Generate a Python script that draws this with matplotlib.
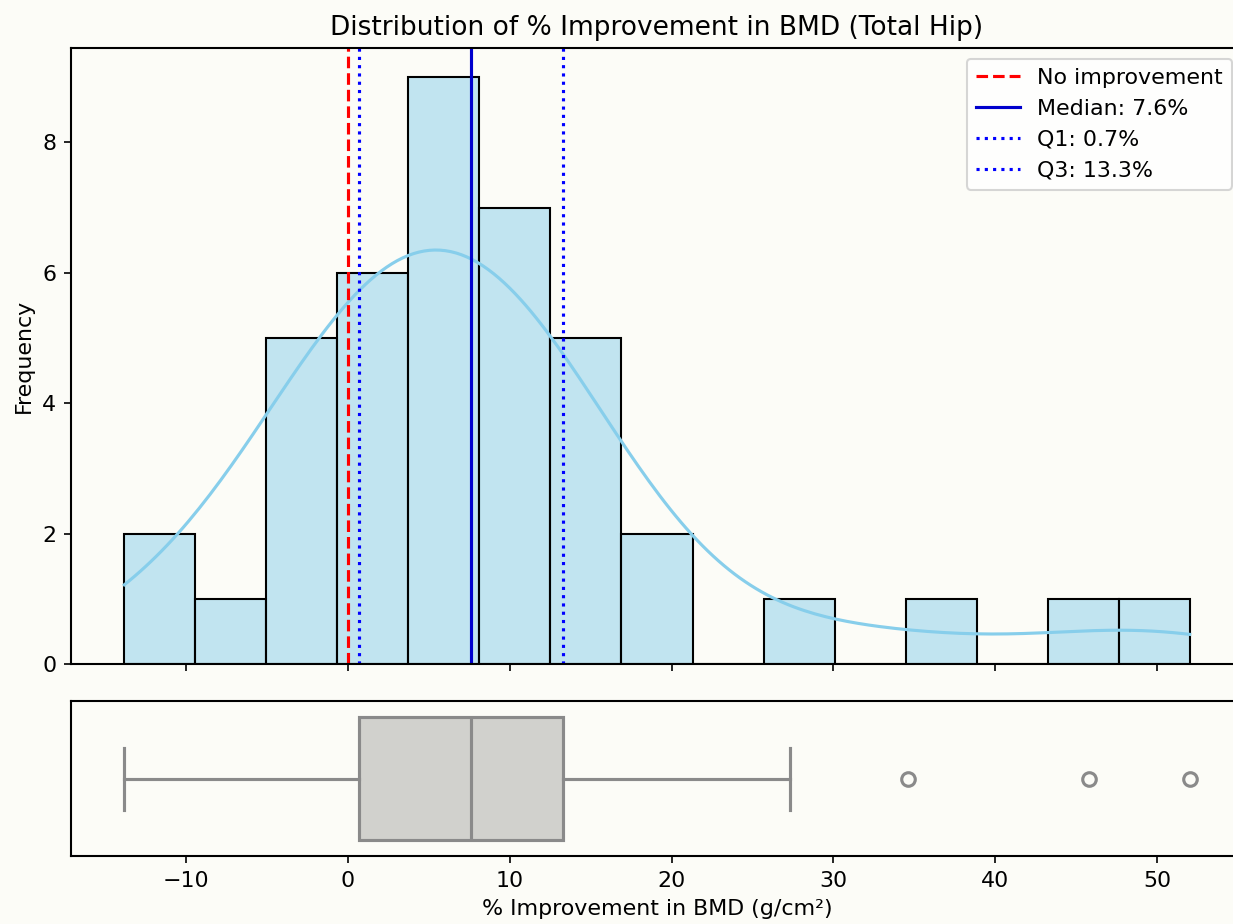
import matplotlib
matplotlib.use("Agg")
import matplotlib.pyplot as plt
import numpy as np
import seaborn as sns

improvement = [
    -13.8, -11.0,
    -7.0,
    -5.0, -4.5, -3.5, -2.3, -1.2,
    -0.6, -0.5, 0.7, 0.8, 1.0, 1.4,
    3.8, 3.9, 4.0, 4.2, 4.5, 5.0, 7.6, 7.65, 7.7,
    8.2, 8.4, 8.8, 9.3, 9.9, 10.6, 11.4,
    13.3, 13.6, 14.2, 15.0, 15.8,
    18.0, 20.5,
    27.3,
    34.6,
    45.8,
    52.0,
]
n_bins = 15

data = np.array(improvement)
median = np.median(data)
q1, q3 = np.percentile(data, [25, 75])

plt.rcParams["font.size"] = 10.6
plt.rcParams["axes.linewidth"] = 1.0

bg = "#fcfcf7"
fig = plt.figure(figsize=(1233 / 150, 924 / 150), dpi=150, facecolor=bg)
ax1 = fig.add_axes([0.0576, 0.2814, 0.9505, 0.6667], facecolor=bg)
ax2 = fig.add_axes([0.0576, 0.0736, 0.9505, 0.1677], facecolor=bg, sharex=ax1)

sns.histplot(data, bins=n_bins, kde=True, color="skyblue", edgecolor="black",
             alpha=0.5, line_kws={"linewidth": 1.5}, ax=ax1)
ax1.axvline(0, color="red", linestyle="--", linewidth=1.5, label="No improvement")
ax1.axvline(median, color="mediumblue", linestyle="-", linewidth=1.5, label=f"Median: {median:.1f}%")
ax1.axvline(q1, color="blue", linestyle=":", linewidth=1.5, label=f"Q1: {q1:.1f}%")
ax1.axvline(q3, color="blue", linestyle=":", linewidth=1.5, label=f"Q3: {q3:.1f}%")
ax1.set_title("Distribution of % Improvement in BMD (Total Hip)", fontsize=12.7)
ax1.set_ylabel("Frequency")
ax1.set_xlabel("")
ax1.tick_params(labelbottom=False)
ax1.legend(loc="upper right")

ax2.boxplot(data, vert=False, positions=[0], widths=0.8, patch_artist=True,
            boxprops=dict(facecolor="#d1d1cd", edgecolor="#8a8a8a", linewidth=1.5),
            medianprops=dict(color="#8a8a8a", linewidth=1.5),
            whiskerprops=dict(color="#8a8a8a", linewidth=1.5),
            capprops=dict(color="#8a8a8a", linewidth=1.5),
            flierprops=dict(marker="o", markerfacecolor="none", markeredgecolor="#8a8a8a",
                            markersize=6.5, markeredgewidth=1.5))
ax2.set_ylim(0.5, -0.5)
ax2.set_yticks([])
ax2.set_xlabel("% Improvement in BMD (g/cm²)")

fig.savefig("out.png", dpi=150, facecolor=bg)
